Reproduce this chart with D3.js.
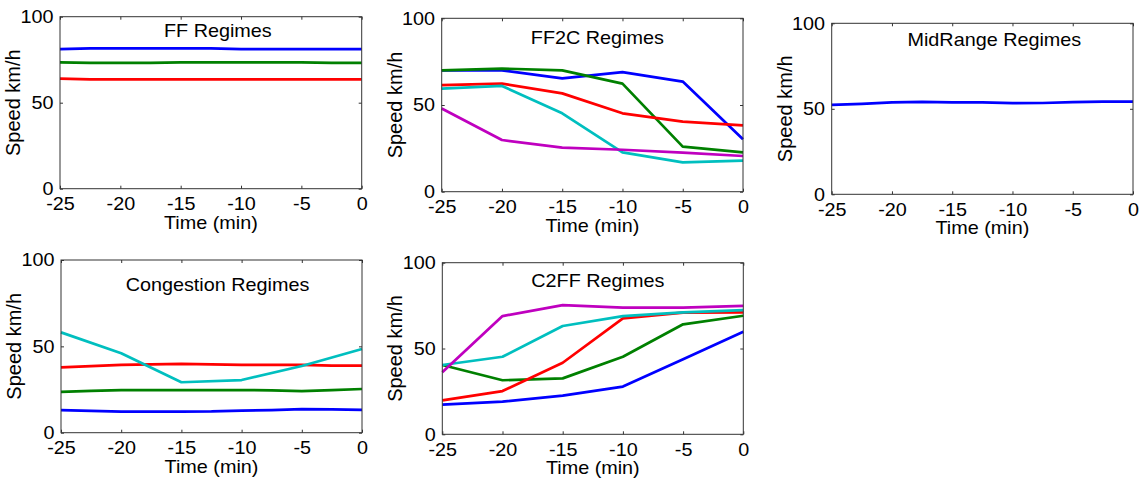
<!DOCTYPE html>
<html lang="en">
<head>
    <meta charset="UTF-8">
    <title>Speed regimes</title>
    <script src="https://cdn.jsdelivr.net/npm/d3@7"></script>
    <style>
        body { margin: 0; background: #fff; }
        text { font-family: "Liberation Sans", Arial, sans-serif; fill: #000; }
    </style>
</head>
<body>
    <script>

        //time grids (min)
        var times5 = [-25, -20, -15, -10, -5, 0];
        var times25 = [-25, -22.5, -20, -17.5, -15, -12.5, -10, -7.5, -5, -2.5, 0];

        var xTicks = [-25, -20, -15, -10, -5, 0];
        var yTicks = [0, 50, 100];

        var titles = ['FF Regimes', 'FF2C Regimes', 'MidRange Regimes', 'Congestion Regimes', 'C2FF Regimes'];

        //matlab default line colours
        var colors = ['#0000ff', '#008000', '#ff0000', '#00bfbf', '#bf00bf'];

        //FF regimes (2.5 min grid)
        var ffBlue  = [81.2, 81.6, 81.6, 81.6, 81.6, 81.6, 81.2, 81.2, 81.2, 81.2, 81.2];
        var ffGreen = [73.5, 73.1, 73.1, 73.1, 73.5, 73.5, 73.5, 73.5, 73.5, 73.1, 73.1];
        var ffRed   = [64.0, 63.6, 63.6, 63.6, 63.6, 63.6, 63.6, 63.6, 63.6, 63.6, 63.6];

        //FF2C regimes (5 min grid)
        var ff2cBlue    = [70.0, 70.0, 65.4, 69.0, 63.5, 30.2];
        var ff2cGreen   = [70.0, 71.0, 70.0, 62.3, 26.0, 22.7];
        var ff2cRed     = [61.5, 62.3, 56.7, 45.2, 40.4, 38.3];
        var ff2cCyan    = [59.4, 61.0, 45.2, 22.7, 16.9, 17.9];
        var ff2cMagenta = [48.0, 29.8, 25.4, 24.2, 22.5, 20.6];

        //MidRange regime (2.5 min grid)
        var midBlue = [52.3, 52.9, 53.7, 54.1, 53.8, 53.7, 53.3, 53.4, 53.9, 54.2, 54.2];

        //Congestion regimes
        var congBlue  = [13.1, 12.6, 12.2, 12.2, 12.2, 12.3, 12.8, 13.1, 13.6, 13.5, 13.2];
        var congGreen = [23.6, 24.2, 24.6, 24.7, 24.7, 24.7, 24.7, 24.5, 24.1, 24.6, 25.3];
        var congRed   = [37.8, 38.5, 39.3, 39.6, 39.8, 39.6, 39.3, 39.3, 39.3, 38.8, 38.8];
        var congCyan  = [58.1, 46.0, 29.2, 30.5, 38.6, 48.5];

        //C2FF regimes (5 min grid)
        var c2ffBlue    = [17.3, 19.0, 22.5, 27.8, 43.7, 59.8];
        var c2ffGreen   = [40.4, 31.5, 32.6, 45.2, 64.1, 69.1];
        var c2ffRed     = [19.8, 25.2, 41.7, 67.6, 70.9, 71.1];
        var c2ffCyan    = [40.4, 45.2, 63.1, 68.9, 71.1, 72.4];
        var c2ffMagenta = [36.1, 68.9, 75.3, 73.8, 73.8, 74.8];

        //panel boxes in page pixels, plus title nudges
        var layout = [
            {left: 60,    right: 361.7, top: 16.7,  bottom: 188.7, tdx: 7,  tdy: 20.6},
            {left: 441.7, right: 743,   top: 18.3,  bottom: 191.7, tdx: 5,  tdy: 25.7},
            {left: 831.7, right: 1133,  top: 23.3,  bottom: 194.3, tdx: 12, tdy: 22.4},
            {left: 61,    right: 362,   top: 260,   bottom: 432.7, tdx: 6,  tdy: 30.7},
            {left: 442.3, right: 743.3, top: 262.7, bottom: 434.3, tdx: 5,  tdy: 24}
        ];

        var panels = [
            [{t: times25, v: ffBlue, c: 0}, {t: times25, v: ffGreen, c: 1}, {t: times25, v: ffRed, c: 2}],
            [{t: times5, v: ff2cBlue, c: 0}, {t: times5, v: ff2cGreen, c: 1}, {t: times5, v: ff2cRed, c: 2},
             {t: times5, v: ff2cCyan, c: 3}, {t: times5, v: ff2cMagenta, c: 4}],
            [{t: times25, v: midBlue, c: 0}],
            [{t: times25, v: congBlue, c: 0}, {t: times25, v: congGreen, c: 1}, {t: times25, v: congRed, c: 2},
             {t: times5, v: congCyan, c: 3}],
            [{t: times5, v: c2ffBlue, c: 0}, {t: times5, v: c2ffGreen, c: 1}, {t: times5, v: c2ffRed, c: 2},
             {t: times5, v: c2ffCyan, c: 3}, {t: times5, v: c2ffMagenta, c: 4}]
        ];

        var w = 1143;
        var h = 480;
        var fontSize = 18;
        var stretch = 'scale(1.1,1)';

        //create svg
        var svg = d3.select('body')
                    .append('svg')
                    .attr('width', w)
                    .attr('height', h);

        //plain hyphen minus like the original
        var fmt = function(d) { return String(d); };

        panels.forEach(function(series, p) {
            var L = layout[p];
            var x = d3.scaleLinear().domain([-25, 0]).range([L.left, L.right]);
            var y = d3.scaleLinear().domain([0, 100]).range([L.bottom, L.top]);
            var g = svg.append('g');

            //lines
            var line = d3.line()
                .x(function(d) { return x(d[0]); })
                .y(function(d) { return y(d[1]); });

            g.selectAll('path.series')
                .data(series)
                .enter()
                .append('path')
                .attr('class', 'series')
                .attr('d', function(s) {
                    return line(s.t.map(function(t, i) { return [t, s.v[i]]; }));
                })
                .attr('fill', 'none')
                .attr('stroke', function(s) { return colors[s.c]; })
                .attr('stroke-width', 2.7)
                .attr('stroke-linejoin', 'round');

            //axes, ticks pointing inwards like matlab
            var bottom = g.append('g')
                .attr('transform', 'translate(0,' + L.bottom + ')')
                .call(d3.axisBottom(x).tickValues(xTicks).tickFormat(fmt).tickSizeInner(-3).tickSizeOuter(0).tickPadding(9));
            var left = g.append('g')
                .attr('transform', 'translate(' + L.left + ',0)')
                .call(d3.axisLeft(y).tickValues(yTicks).tickFormat(fmt).tickSizeInner(-3).tickSizeOuter(0).tickPadding(6));
            g.append('g')
                .attr('transform', 'translate(0,' + L.top + ')')
                .call(d3.axisTop(x).tickValues(xTicks).tickSizeInner(-3).tickSizeOuter(0).tickFormat(''));
            g.append('g')
                .attr('transform', 'translate(' + L.right + ',0)')
                .call(d3.axisRight(y).tickValues(yTicks).tickSizeInner(-3).tickSizeOuter(0).tickFormat(''));

            g.selectAll('.domain').remove();
            g.selectAll('.tick line').attr('stroke', '#333');
            [bottom, left].forEach(function(a) {
                a.selectAll('text')
                    .attr('font-size', fontSize)
                    .attr('font-family', '"Liberation Sans", Arial, sans-serif')
                    .attr('fill', '#000')
                    .attr('transform', stretch);
            });

            //box
            g.append('rect')
                .attr('x', L.left)
                .attr('y', L.top)
                .attr('width', L.right - L.left)
                .attr('height', L.bottom - L.top)
                .attr('fill', 'none')
                .attr('stroke', '#333')
                .attr('stroke-width', 1);

            var cx = (L.left + L.right) / 2;

            //title inside the box
            g.append('text')
                .attr('transform', 'translate(' + (cx + L.tdx) + ',' + (L.top + L.tdy) + ') ' + stretch)
                .attr('text-anchor', 'middle')
                .attr('font-size', fontSize)
                .text(titles[p]);

            //x label
            g.append('text')
                .attr('transform', 'translate(' + cx + ',' + (L.bottom + 40) + ') ' + stretch)
                .attr('text-anchor', 'middle')
                .attr('font-size', fontSize)
                .text('Time (min)');

            //y label
            g.append('text')
                .attr('transform', 'translate(' + (L.left - 40) + ',' + ((L.top + L.bottom) / 2) + ') rotate(-90)')
                .attr('text-anchor', 'middle')
                .attr('font-size', 20)
                .text('Speed km/h');
        });

    </script>
</body>
</html>
